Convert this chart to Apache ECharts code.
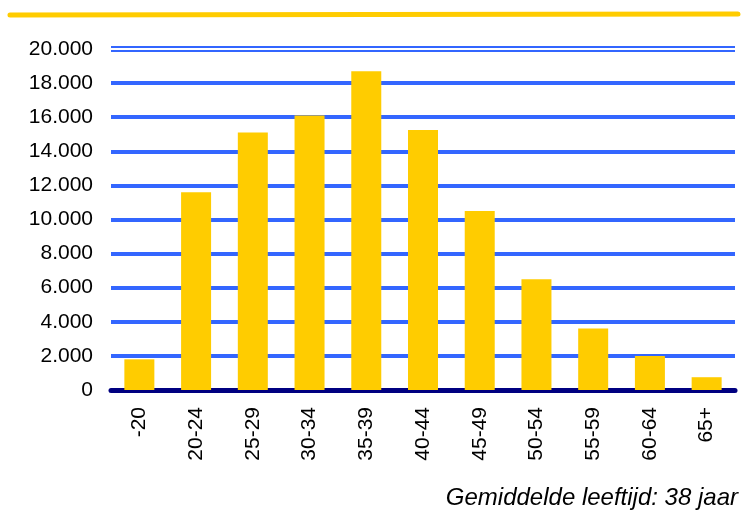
<!DOCTYPE html>
<html>
<head>
<meta charset="utf-8">
<script src="https://cdn.jsdelivr.net/npm/echarts@6/dist/echarts.min.js"></script>
<style>
html,body{margin:0;padding:0;background:#fff;}
#c{width:742px;height:513px;}
</style>
</head>
<body>
<div id="c"></div>
<script>
var categories = ['-20','20-24','25-29','30-34','35-39','40-44','45-49','50-54','55-59','60-64','65+'];
var values = [1800, 11600, 15100, 16100, 18700, 15250, 10500, 6500, 3600, 2000, 750];
var yTicks = [0, 2000, 4000, 6000, 8000, 10000, 12000, 14000, 16000, 18000, 20000];
var footer = 'Gemiddelde leeftijd: 38 jaar';

var font = '"Liberation Sans", Arial, sans-serif';
var chart = echarts.init(document.getElementById('c'));
var gridColors = yTicks.map(function(v){ return v === 20000 ? 'rgba(0,0,0,0)' : '#3366FF'; });

chart.setOption({
  animation: false,
  backgroundColor: '#fff',
  grid: {left: 111, right: 7, top: 49, bottom: 123, containLabel: false},
  xAxis: {
    type: 'category',
    data: categories,
    axisTick: {show: false},
    axisLine: {show: true, lineStyle: {color: '#000080', width: 5, cap: 'round'}, z: 10},
    axisLabel: {rotate: 90, margin: 17, color: '#000', fontSize: 21, fontFamily: font}
  },
  yAxis: {
    type: 'value',
    min: 0, max: 20000, interval: 2000,
    axisLine: {show: false},
    axisTick: {show: false},
    axisLabel: {
      margin: 18, color: '#000', fontSize: 21, fontFamily: font,
      formatter: function(v){ return v === 0 ? '0' : (v/1000).toFixed(0) + '.000'; }
    },
    splitLine: {show: true, showMinLine: false, showMaxLine: true, lineStyle: {color: gridColors, width: 4}}
  },
  series: [{
    type: 'bar',
    data: values,
    barWidth: 30,
    itemStyle: {color: '#FFCC00'},
    z: 3,
    markLine: {
      silent: true,
      symbol: 'none',
      label: {show: false},
      data: [
        {yAxis: yTicks[yTicks.length-1], lineStyle: {color: '#3366FF', width: 6, type: 'solid'}},
        {yAxis: yTicks[yTicks.length-1], lineStyle: {color: '#ffffff', width: 2.2, type: 'solid'}}
      ]
    }
  }],
  graphic: [
    {type: 'line', shape: {x1: 10, y1: 15, x2: 738, y2: 14}, style: {stroke: '#FFCC00', lineWidth: 5, lineCap: 'round'}},
    {type: 'text', right: 4, top: 486, style: {text: footer, font: 'italic 24px "Liberation Sans", Arial, sans-serif', fill: '#000'}}
  ]
});
</script>
</body>
</html>
